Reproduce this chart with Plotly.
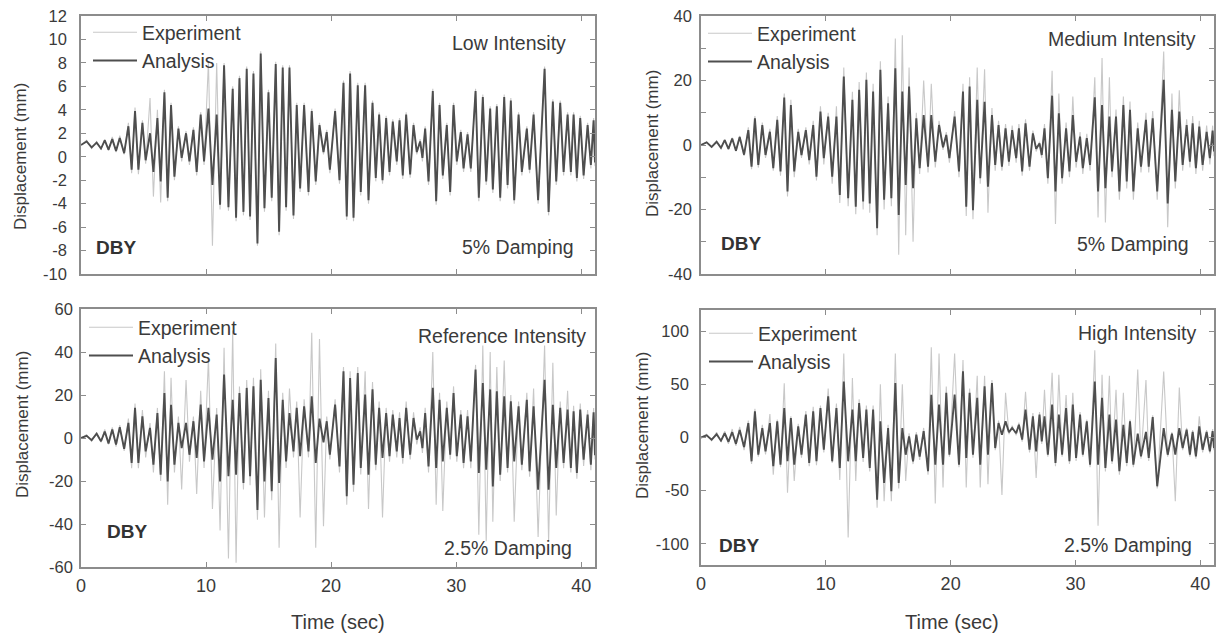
import plotly.graph_objects as go

# ---------------- data ----------------
# times (s) of the successive extrema of the records (shared by all panels)
time_s = [
    0.0, 0.45, 0.85, 1.25, 1.6, 1.9, 2.2, 2.5, 2.8, 3.1, 3.45,
    3.79, 4.05, 4.32, 4.59, 4.91, 5.17, 5.52, 5.79, 6.11, 6.37,
    6.67, 6.93, 7.2, 7.47, 7.79, 8.05, 8.4, 8.67, 8.99, 9.25,
    9.57, 9.84, 10.19, 10.51, 10.85, 11.12, 11.44, 11.79, 12.13, 12.4,
    12.67, 12.99, 13.25, 13.52, 13.79, 14.11, 14.37, 14.67, 14.99, 15.25,
    15.57, 15.84, 16.13, 16.4, 16.67, 16.99, 17.25, 17.52, 17.84, 18.19,
    18.45, 18.77, 19.07, 19.39, 19.65, 19.9, 20.32, 20.67, 20.99, 21.25,
    21.52, 21.79, 22.13, 22.37, 22.72, 22.99, 23.31, 23.57, 23.84, 24.11,
    24.4, 24.67, 24.93, 25.25, 25.47, 25.73, 26.0, 26.32, 26.59, 26.85,
    27.12, 27.3, 27.52, 27.79, 28.13, 28.4, 28.67, 28.93, 29.25, 29.52,
    29.79, 30.05, 30.37, 30.59, 30.91, 31.17, 31.55, 31.81, 32.13, 32.4,
    32.72, 32.93, 33.25, 33.52, 33.84, 34.11, 34.37, 34.64, 34.99, 35.25,
    35.65, 35.87, 36.19, 36.55, 37.07, 37.39, 37.73, 38.0, 38.32, 38.59,
    38.91, 39.17, 39.39, 39.65, 39.92, 40.19, 40.51, 40.77, 40.99, 41.1,
]

low_experiment = [
    1.0, 1.4, 0.7, 1.3, 0.6, 1.5, 0.5, 1.7, 0.4, 1.8, 0.2,
    2.9, -1.4, 4.2, -1.5, 3.1, -0.6, 5.0, -3.4, 4.0, -3.9,
    5.7, -3.8, 4.6, -2.0, 2.6, -0.4, 2.2, -0.7, 2.5, -1.6,
    3.8, -0.7, 8.1, -7.6, 8.0, -4.5, 8.0, -4.6, 6.0, -5.5,
    6.9, -5.0, 7.7, -5.4, 7.3, -7.6, 9.0, -4.7, 5.7, -3.8,
    8.1, -6.7, 7.8, -4.6, 7.8, -5.3, 4.6, -3.0, 4.6, -3.3,
    4.1, -2.4, 2.9, 0.2, 2.3, -1.4, 4.1, -2.3, 6.5, -5.4,
    7.3, -5.5, 6.3, -3.3, 6.3, -4.0, 4.8, -2.1, 3.8, -2.3,
    3.5, -1.6, 3.2, -0.7, 3.3, -1.9, 3.8, -1.8, 2.9, 0.2,
    1.5, -0.4, 2.6, -2.4, 5.8, -4.1, 4.6, -1.9, 2.9, -3.3,
    4.6, -0.7, 2.3, -1.3, 2.1, -1.3, 5.8, -3.8, 5.3, -2.4,
    4.3, -3.1, 4.5, -3.8, 5.3, -2.7, 5.0, -4.0, 3.8, -1.6,
    2.6, -1.4, 3.8, -4.0, 7.7, -5.0, 4.9, -2.4, 4.8, -1.6,
    3.8, -1.6, 3.8, -2.1, 3.5, -1.9, 2.9, -1.0, 3.3, -0.8,
]
low_analysis = [
    1.0, 1.3, 0.8, 1.2, 0.7, 1.4, 0.6, 1.5, 0.5, 1.6, 0.3,
    2.6, -1.1, 3.9, -1.1, 2.9, -0.3, 2.0, -1.3, 3.3, -2.1,
    5.5, -3.5, 4.4, -1.7, 2.4, -0.1, 2.0, -0.4, 2.3, -1.3,
    3.6, -0.4, 4.1, -2.4, 3.6, -4.1, 7.8, -4.3, 5.8, -5.2,
    6.7, -4.7, 7.5, -5.1, 7.1, -7.4, 8.8, -4.4, 5.5, -3.5,
    7.9, -6.4, 7.6, -4.3, 7.6, -5.0, 4.4, -2.7, 4.4, -3.0,
    3.9, -2.1, 2.7, 0.4, 2.1, -1.1, 3.9, -2.0, 6.3, -5.1,
    7.1, -5.2, 6.1, -3.0, 6.1, -3.7, 4.6, -1.8, 3.6, -2.0,
    3.3, -1.3, 3.0, -0.4, 3.1, -1.6, 3.6, -1.5, 2.7, 0.4,
    1.3, -0.1, 2.4, -2.1, 5.6, -3.8, 4.4, -1.6, 2.7, -3.0,
    4.4, -0.4, 2.1, -1.0, 1.9, -1.0, 5.6, -3.5, 5.1, -2.1,
    4.1, -2.8, 4.3, -3.5, 5.1, -2.4, 4.8, -3.7, 3.6, -1.3,
    2.4, -1.1, 3.6, -3.7, 7.5, -4.7, 4.7, -2.1, 4.6, -1.3,
    3.6, -1.3, 3.6, -1.8, 3.3, -1.6, 2.7, -0.7, 3.1, -0.5,
]

medium_experiment = [
    0.0, 0.9, -0.7, 1.2, -1.0, 1.7, -1.4, 2.3, -2.0, 2.8, -3.4,
    5.5, -7.5, 9.0, -7.0, 7.0, -4.0, 5.0, -8.0, 9.0, -9.5,
    16.0, -16.0, 14.0, -10.0, 5.0, -4.0, 5.5, -6.0, 7.5, -11.0,
    12.0, -6.0, 10.0, -12.0, 12.0, -18.0, 24.0, -19.0, 16.5, -21.5,
    19.5, -20.0, 22.5, -21.0, 19.0, -28.0, 26.0, -20.0, 15.0, -19.0,
    33.0, -34.0, 34.0, -28.0, 24.0, -30.0, 10.0, -9.0, 20.0, -8.5,
    19.0, -7.0, 7.5, -1.5, 4.0, -5.5, 10.5, -10.0, 19.0, -22.0,
    21.0, -23.0, 24.0, -12.0, 23.5, -21.0, 11.5, -8.0, 7.5, -8.0,
    6.5, -6.5, 6.0, -5.5, 6.5, -9.5, 8.0, -8.0, 4.5, -2.0,
    1.0, -4.0, 6.5, -12.0, 23.0, -24.5, 16.0, -12.0, 7.0, -10.0,
    15.0, -7.0, 4.0, -9.0, 3.5, -8.0, 21.0, -22.5, 27.0, -24.0,
    21.0, -10.0, 11.0, -17.0, 15.0, -13.5, 13.5, -17.0, 7.0, -8.5,
    10.0, -8.5, 10.5, -17.0, 29.0, -25.5, 16.0, -13.5, 17.0, -8.0,
    8.0, -7.0, 9.0, -9.0, 7.5, -8.0, 6.0, -6.0, 6.0, -3.5,
]
medium_analysis = [
    0.0, 0.8, -0.6, 1.0, -0.9, 1.5, -1.2, 2.0, -1.8, 2.5, -3.0,
    4.6, -6.7, 8.3, -6.2, 6.2, -3.1, 4.1, -7.2, 7.8, -8.2,
    14.7, -14.4, 12.4, -8.2, 4.1, -3.1, 4.6, -4.7, 6.2, -9.8,
    10.4, -4.1, 8.8, -9.8, 8.8, -15.5, 21.2, -16.5, 14.0, -19.1,
    17.1, -17.5, 20.2, -18.1, 16.6, -25.8, 23.3, -17.0, 12.9, -16.5,
    23.8, -21.7, 16.6, -12.4, 18.1, -13.4, 8.3, -7.2, 9.3, -6.7,
    9.3, -5.2, 6.2, -0.7, 3.1, -4.1, 8.8, -8.2, 16.6, -19.1,
    18.1, -20.2, 14.0, -10.3, 13.4, -12.9, 9.3, -6.2, 6.2, -6.7,
    5.2, -5.2, 4.6, -4.1, 5.2, -8.2, 6.7, -6.7, 3.6, -1.2,
    0.5, -3.1, 5.2, -10.3, 15.3, -14.4, 9.8, -10.3, 5.2, -8.2,
    9.3, -5.2, 2.6, -7.2, 2.1, -6.2, 14.8, -14.4, 12.4, -13.4,
    8.8, -8.2, 8.8, -14.4, 12.4, -11.3, 10.9, -14.4, 5.2, -6.7,
    7.8, -6.7, 8.3, -14.4, 20.2, -18.1, 10.9, -11.3, 10.4, -6.2,
    6.2, -5.2, 6.7, -7.2, 5.7, -6.2, 4.1, -4.1, 4.5, -2.0,
]

reference_experiment = [
    0.0, 1.5, -1.5, 2.5, -2.0, 4.0, -3.0, 5.0, -4.0, 6.0, -6.0,
    9, -14, 16, -14, 13, -9, 7, -16, 14, -20,
    31, -31, 28, -16, 10, -24, 27, -11, 10, -26,
    22, -14, 37, -33, 14, -43, 42, -56, 50, -58,
    24, -24, 27, -22, 28, -38, 32, -37, 22, -29,
    44, -51, 21, -14, 23, -9, 17, -37, 18, -9,
    49, -51, 46, -41, 10, -10, 18, -16, 33, -31,
    31, -25, 33, -17, 31, -33, 26, -15, 17, -37,
    14, -11, 13, -9, 12, -12, 17, -10, 12, -3,
    5, -7, 14, -16, 40, -31, 21, -34, 17, -10,
    24, -11, 13, -14, 13, -14, 34, -45, 43, -48,
    40, -39, 33, -20, 36, -16, 20, -39, 17, -15,
    21, -18, 23, -46, 43, -48, 35, -36, 17, -14,
    22, -16, 15, -19, 16, -13, 13, -15, 14, -10,
]
reference_analysis = [
    0.0, 1.0, -1.0, 2.0, -1.5, 3.0, -2.5, 4.0, -3.0, 5.0, -5.0,
    7.0, -11.6, 14.0, -11.6, 10.1, -6.2, 4.7, -12.4, 11.6, -17.1,
    20.9, -20.2, 15.5, -12.4, 7.0, -4.7, 7.0, -7.8, 7.8, -9.3,
    15.5, -10.9, 14.0, -10.1, 10.9, -20.2, 29.5, -17.8, 17.8, -17.1,
    20.9, -20.9, 23.3, -17.8, 24.0, -33.5, 27.1, -20.2, 18.6, -24.8,
    37.2, -20.9, 17.8, -10.9, 11.6, -6.2, 14.0, -8.5, 14.7, -6.2,
    19.4, -11.6, 9.0, -2.0, 7.8, -7.8, 15.5, -13.2, 31.0, -27.1,
    27.9, -21.7, 30.2, -13.9, 20.2, -17.1, 22.6, -12.4, 14.0, -9.3,
    11.6, -8.5, 10.9, -6.2, 9.3, -9.3, 14.0, -7.8, 9.3, -0.8,
    3.1, -4.7, 11.6, -13.2, 23.3, -13.9, 17.8, -10.9, 14.0, -7.8,
    20.9, -8.5, 10.9, -11.6, 10.1, -10.9, 31.8, -16.3, 25.6, -14.7,
    22.6, -22.5, 21.7, -17.1, 19.4, -13.9, 17.1, -10.9, 14.7, -12.4,
    17.8, -15.5, 14.7, -24.0, 27.1, -24.0, 15.5, -13.9, 14.0, -11.6,
    13.2, -13.9, 12.4, -16.3, 13.2, -10.1, 10.9, -12.4, 12.0, -8.0,
]

high_experiment = [
    0, 3, -3, 5, -4, 6, -6, 8, -8, 10, -12,
    16, -25, 27, -18, 12, -16, 22, -35, 17, -28,
    51, -52, 20, -41, 13, -19, 25, -27, 29, -26,
    30, -14, 46, -24, 32, -40, 79, -94, 56, -41,
    36, -23, 30, -32, 30, -66, 50, -60, 12, -60,
    79, -48, 50, -41, 4, -25, 5, -21, 9, -35,
    85, -62, 79, -47, 48, -18, 79, -28, 73, -47,
    46, -19, 58, -47, 58, -44, 54, -12, 16, -54,
    42, 3, 11, 2, 14, -4, 43, -14, 23, -38,
    24, -6, 45, -18, 61, -27, 59, -18, 40, -25,
    42, -22, 24, -18, 17, -28, 82, -83, 59, -32,
    58, -25, 45, -35, 42, -27, 17, -28, 64, -20,
    54, -22, 21, -48, 62, -18, 5, -60, 47, -12,
    9, -18, 7, -20, 20, -14, 7, -15, 8, -12,
]
high_analysis = [
    0, 2, -2, 3, -3, 4, -4, 5, -6, 7, -9,
    13.6, -22.4, 24.6, -16.2, 8.9, -13.0, 13.6, -27.1, 15.2, -25.6,
    27.8, -22.4, 18.4, -25.6, 10.5, -16.2, 21.6, -24.0, 24.6, -22.4,
    27.8, -11.5, 38.8, -22.4, 27.8, -28.7, 52.7, -22.4, 26.2, -22.4,
    32.5, -19.3, 26.2, -28.7, 26.2, -58.5, 15.2, -42.8, 8.9, -50.6,
    51.2, -42.8, 8.9, -16.2, 1.1, -22.4, 2.6, -18.0, 6.0, -31.7,
    40.3, -25.6, 30.9, -25.6, 42.0, -16.2, 40.3, -25.6, 62.2, -19.3,
    42.0, -16.2, 37.3, -25.6, 48.1, -16.2, 51.2, -9.9, 13.6, 2.6,
    15.2, 5.0, 8.9, 4.0, 12.0, -2.0, 26.2, -11.5, 20.0, -13.0,
    21.6, -3.6, 20.0, -16.2, 30.9, -24.0, 21.6, -16.2, 27.8, -22.4,
    30.9, -19.3, 21.6, -16.2, 15.2, -25.6, 52.7, -25.6, 37.3, -28.7,
    21.6, -22.4, 16.8, -31.7, 12.0, -24.0, 15.2, -25.6, 3.6, -17.7,
    5.2, -19.3, 19.2, -45.9, 8.9, -16.2, 3.6, -16.2, 8.9, -9.9,
    7.3, -16.2, 5.2, -17.7, 10.5, -11.5, 5.2, -13.0, 6.0, -10.0,
]

panel_titles = ["Low Intensity", "Medium Intensity", "Reference Intensity", "High Intensity"]
panel_damping = ["5% Damping", "5% Damping", "2.5% Damping", "2.5% Damping"]
site_label = "DBY"
series_names = ["Experiment", "Analysis"]
x_ticks = [0, 10, 20, 30, 40]
y_ticks = [
    [12, 10, 8, 6, 4, 2, 0, -2, -4, -6, -8, -10],
    [40, 20, 0, -20, -40],
    [60, 40, 20, 0, -20, -40, -60],
    [100, 50, 0, -50, -100],
]
y_ranges = [[-10, 12], [-40, 40], [-60, 60], [-120, 120]]
x_title = "Time (sec)"
y_title = "Displacement (mm)"

experiments = [low_experiment, medium_experiment, reference_experiment, high_experiment]
analyses = [low_analysis, medium_analysis, reference_analysis, high_analysis]

# ---------------- layout helpers ----------------
W, H = 1222, 635
def fx(px):
    return px / W
def fy(py):
    return 1 - py / H

# pixel boxes of the four plotting areas: (left, right, top, bottom)
boxes = [(81, 595, 16, 274), (701, 1214, 16, 274), (81, 595, 309, 567), (701, 1214, 310, 565)]

FONT = "Liberation Sans, Arial, Helvetica, sans-serif"
TXT = "#3a3a3a"
FRAME = "#8c8c8c"
EXP_COLOR = "#c8c8c8"
ANA_COLOR = "#4e4e4e"

fig = go.Figure()
legend_names = ["legend", "legend2", "legend3", "legend4"]

for i in range(4):
    xa = "x" if i == 0 else f"x{i+1}"
    ya = "y" if i == 0 else f"y{i+1}"
    fig.add_trace(go.Scatter(x=time_s, y=experiments[i], mode="lines", name=series_names[0],
                             line=dict(color=EXP_COLOR, width=1.1), xaxis=xa, yaxis=ya,
                             legend=legend_names[i]))
    fig.add_trace(go.Scatter(x=time_s, y=analyses[i], mode="lines", name=series_names[1],
                             line=dict(color=ANA_COLOR, width=1.9), xaxis=xa, yaxis=ya,
                             legend=legend_names[i]))

layout = dict(
    width=W, height=H, margin=dict(l=0, r=0, t=0, b=0, autoexpand=False),
    paper_bgcolor="white", plot_bgcolor="white",
    font=dict(family=FONT, color=TXT, size=16),
    showlegend=True,
)

standoffs = [9, 4, 3, 7]
for i, (l, r, t, b) in enumerate(boxes):
    sx = "" if i == 0 else str(i + 1)
    bottom = i >= 2
    layout["xaxis" + sx] = dict(
        domain=[fx(l), fx(r)], anchor="y" + sx, range=[0, 41.1],
        tickvals=x_ticks, ticktext=[str(v) for v in x_ticks],
        showticklabels=bottom, ticks="inside", ticklen=5, tickwidth=1, tickcolor=FRAME,
        showline=True, linecolor=FRAME, linewidth=1.6, mirror="ticks",
        showgrid=False, zeroline=False, tickfont=dict(size=18, color=TXT),
        ticklabelstandoff=2, automargin=False,
    )
    yax = dict(
        domain=[fy(b), fy(t)], anchor="x" + sx, range=y_ranges[i],
        tickvals=y_ticks[i], ticktext=[str(v) for v in y_ticks[i]],
        ticks="inside", ticklen=5, tickwidth=1, tickcolor=FRAME,
        showline=True, linecolor=FRAME, linewidth=1.6, mirror="ticks",
        showgrid=False, zeroline=False, tickfont=dict(size=16.5, color=TXT),
        ticklabelstandoff=standoffs[i], automargin=False,
    )
    if i == 1:
        yax["minor"] = dict(dtick=10, ticks="inside", ticklen=5, tickcolor=FRAME)
    layout["yaxis" + sx] = yax

# legends (one per panel)
legend_pos = [(88, 13), (703, 14), (84, 308), (704, 314)]
for i, name in enumerate(legend_names):
    lx, ly = legend_pos[i]
    layout[name] = dict(x=fx(lx), y=fy(ly), xanchor="left", yanchor="top",
                        bgcolor="rgba(0,0,0,0)", borderwidth=0,
                        font=dict(family=FONT, size=19.5, color=TXT),
                        itemwidth=44, tracegroupgap=0)

annotations = []
# panel titles (top right), damping (bottom right), site label (bottom left)
title_pos = [(568, 43), (1198, 39), (588, 336), (1198, 333)]
damp_pos = [(576, 247), (1191, 244), (574, 548), (1194, 545)]
dby_pos = [(94, 247), (719, 244), (105, 531), (717, 545)]
for i in range(4):
    annotations.append(dict(text=panel_titles[i], x=fx(title_pos[i][0]), y=fy(title_pos[i][1]),
                            xref="paper", yref="paper", xanchor="right", yanchor="middle",
                            showarrow=False, font=dict(size=19.5, color=TXT)))
    annotations.append(dict(text=panel_damping[i], x=fx(damp_pos[i][0]), y=fy(damp_pos[i][1]),
                            xref="paper", yref="paper", xanchor="right", yanchor="middle",
                            showarrow=False, font=dict(size=19.5, color=TXT)))
    annotations.append(dict(text="<b>" + site_label + "</b>", x=fx(dby_pos[i][0]), y=fy(dby_pos[i][1]),
                            xref="paper", yref="paper", xanchor="left", yanchor="middle",
                            showarrow=False, font=dict(size=19, color="#333333")))

# axis titles
ytitle_pos = [(20, 157), (652, 144), (22, 425), (642, 426)]
for (px_, py_) in ytitle_pos:
    annotations.append(dict(text=y_title, x=fx(px_), y=fy(py_), xref="paper", yref="paper",
                            xanchor="center", yanchor="middle", textangle=-90, showarrow=False,
                            font=dict(size=17, color=TXT)))
for px_ in (338, 952):
    annotations.append(dict(text=x_title, x=fx(px_), y=fy(622), xref="paper", yref="paper",
                            xanchor="center", yanchor="middle", showarrow=False,
                            font=dict(size=20, color=TXT)))

layout["annotations"] = annotations
fig.update_layout(**layout)
fig.write_html("out.html", config={"displayModeBar": False},
               post_script="document.body.style.margin='0px';document.body.style.overflow='hidden';")
